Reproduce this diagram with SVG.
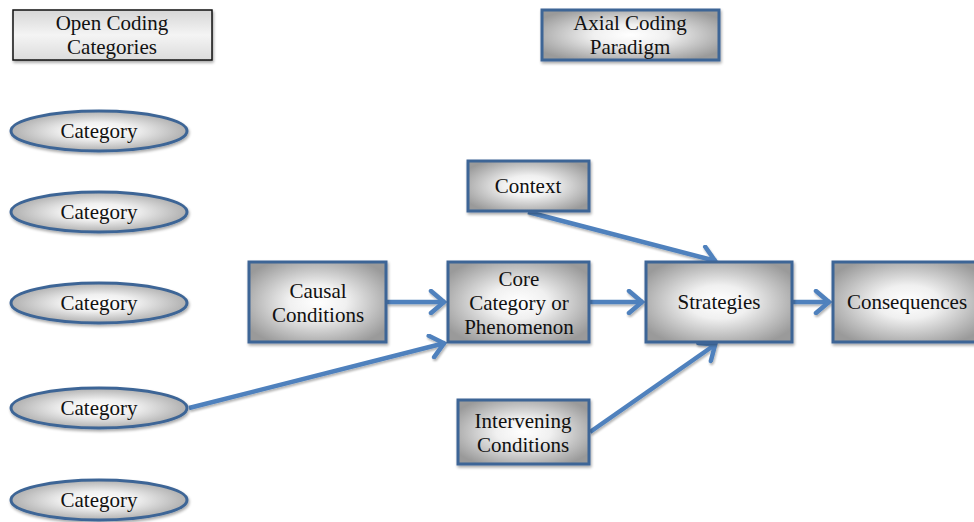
<svg xmlns="http://www.w3.org/2000/svg" width="974" height="522" viewBox="0 0 974 522">
<style>
text{font-family:"Liberation Serif","Times New Roman",serif;font-size:21px;fill:#111;text-anchor:middle}
.n{fill:url(#rg);stroke:#3D6596;stroke-width:3;filter:url(#sh)}
.e{fill:url(#rg);stroke:#3D6596;stroke-width:3;filter:url(#sh)}
.c{stroke:#4F81BD;stroke-width:4.5;fill:none;stroke-linecap:butt;marker-end:url(#ah)}
</style>
<defs>
<radialGradient id="rg" cx="50%" cy="50%" r="60%">
<stop offset="0" stop-color="#ffffff"/>
<stop offset="0.35" stop-color="#f0f0f0"/>
<stop offset="1" stop-color="#9a9a9a"/>
</radialGradient>
<linearGradient id="lg" x1="0" y1="0" x2="0" y2="1">
<stop offset="0" stop-color="#d6d6d6"/>
<stop offset="0.5" stop-color="#f4f4f4"/>
<stop offset="1" stop-color="#dcdcdc"/>
</linearGradient>
<filter id="sh" x="-10%" y="-10%" width="125%" height="130%">
<feGaussianBlur in="SourceAlpha" stdDeviation="1.5"/>
<feOffset dx="1" dy="2" result="o"/>
<feComponentTransfer><feFuncA type="linear" slope="0.35"/></feComponentTransfer>
<feMerge><feMergeNode/><feMergeNode in="SourceGraphic"/></feMerge>
</filter>
<filter id="csh" filterUnits="userSpaceOnUse" x="0" y="0" width="974" height="522">
<feGaussianBlur in="SourceAlpha" stdDeviation="1.2"/>
<feOffset dx="1" dy="2" result="o"/>
<feComponentTransfer><feFuncA type="linear" slope="0.3"/></feComponentTransfer>
<feMerge><feMergeNode/><feMergeNode in="SourceGraphic"/></feMerge>
</filter>
<marker id="ah" markerUnits="userSpaceOnUse" viewBox="0 0 20 26" refX="17" refY="13" markerWidth="20" markerHeight="26" orient="auto">
<path d="M3,2 L16,13 L3,24" fill="none" stroke="#4F81BD" stroke-width="4.5" stroke-linecap="round" stroke-linejoin="miter"/>
</marker>
</defs>

<g id="connectors" filter="url(#csh)">
<line class="c" x1="387" y1="302" x2="445" y2="302"/>
<line class="c" x1="590" y1="302" x2="643" y2="302"/>
<line class="c" x1="793" y1="302" x2="830" y2="302"/>
<line class="c" x1="189" y1="408" x2="445" y2="343"/>
<line class="c" x1="528" y1="212" x2="716" y2="261"/>
<line class="c" x1="590" y1="432" x2="716" y2="344"/>
</g>

<g id="open-coding">
<rect x="13" y="10" width="199" height="50" fill="url(#lg)" stroke="#111" stroke-width="1.5" filter="url(#sh)"/>
<text x="112" y="30" font-family="Liberation Serif, serif">Open Coding</text>
<text x="112" y="54" font-family="Liberation Serif, serif">Categories</text>
</g>
<g id="axial-coding">
<rect class="n" x="542" y="10" width="177" height="50"/>
<text x="630" y="30">Axial Coding</text>
<text x="630" y="54">Paradigm</text>
</g>

<g id="category1"><ellipse class="e" cx="99" cy="131" rx="88" ry="20"/><text x="99" y="138">Category</text></g>
<g id="category2"><ellipse class="e" cx="99" cy="212" rx="88" ry="20"/><text x="99" y="219">Category</text></g>
<g id="category3"><ellipse class="e" cx="99" cy="303" rx="88" ry="20"/><text x="99" y="310">Category</text></g>
<g id="category4"><ellipse class="e" cx="99" cy="408" rx="88" ry="20"/><text x="99" y="415">Category</text></g>
<g id="category5"><ellipse class="e" cx="99" cy="500" rx="88" ry="20"/><text x="99" y="507">Category</text></g>

<g id="context"><rect class="n" x="468" y="161" width="121" height="50"/><text x="528" y="193">Context</text></g>
<g id="causal"><rect class="n" x="249" y="262" width="137" height="80"/><text x="318" y="298">Causal</text><text x="318" y="322">Conditions</text></g>
<g id="core"><rect class="n" x="448" y="262" width="141" height="80"/><text x="519" y="286">Core</text><text x="519" y="310">Category or</text><text x="519" y="334">Phenomenon</text></g>
<g id="strategies"><rect class="n" x="646" y="262" width="146" height="80"/><text x="719" y="309">Strategies</text></g>
<g id="consequences"><rect class="n" x="833" y="262" width="150" height="80"/><text x="907" y="309">Consequences</text></g>
<g id="intervening"><rect class="n" x="458" y="400" width="131" height="64"/><text x="523" y="428">Intervening</text><text x="523" y="452">Conditions</text></g>
</svg>
